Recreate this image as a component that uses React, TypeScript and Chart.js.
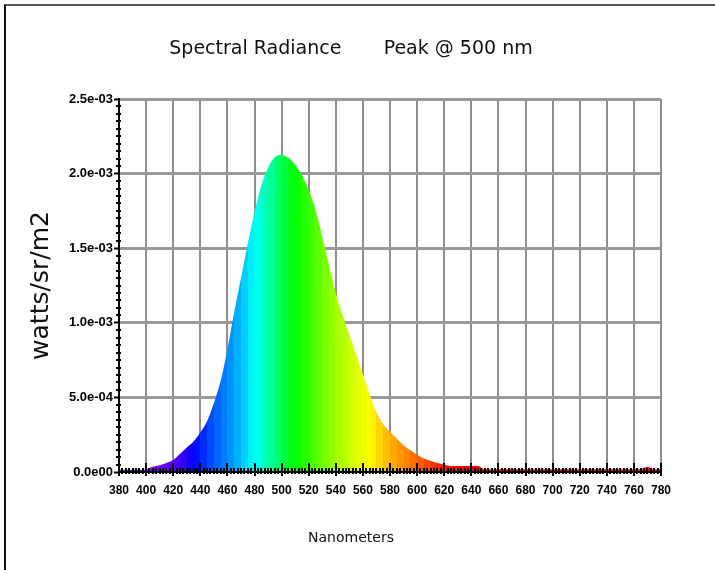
import React, { useEffect, useRef } from "react";
import { Chart, registerables } from "chart.js";

Chart.register(...registerables);

// ---- data ----
const wavelengths = [
  380, 385, 390, 395, 400, 405, 410, 415, 420, 425, 430, 435, 440, 445, 450, 455,
  460, 465, 470, 475, 480, 485, 490, 495, 500, 505, 510, 515, 520, 525, 530, 535,
  540, 545, 550, 555, 560, 565, 570, 575, 580, 585, 590, 595, 600, 605, 610, 615,
  620, 625, 630, 635, 640, 645, 650, 655, 660, 665, 670, 675, 680, 685, 690, 695,
  700, 705, 710, 715, 720, 725, 730, 735, 740, 745, 750, 755, 760, 765, 770, 775, 780,
];

const radiance = [
  1.5e-5, 1.5e-5, 1.5e-5, 1.5e-5, 1.8e-5, 3.5e-5, 4.5e-5, 6.0e-5, 8.0e-5, 1.2e-4,
  1.65e-4, 2.05e-4, 2.65e-4, 3.4e-4, 4.6e-4, 6.1e-4, 8.2e-4, 1.07e-3, 1.3e-3, 1.53e-3,
  1.74e-3, 1.92e-3, 2.04e-3, 2.11e-3, 2.125e-3, 2.105e-3, 2.06e-3, 1.99e-3, 1.89e-3, 1.76e-3,
  1.58e-3, 1.39e-3, 1.2e-3, 1.05e-3, 9.2e-4, 7.9e-4, 6.55e-4, 5.2e-4, 4.0e-4, 3.2e-4,
  2.7e-4, 2.25e-4, 1.8e-4, 1.45e-4, 1.15e-4, 9.0e-5, 7.5e-5, 6.0e-5, 5.0e-5, 4.0e-5,
  4.0e-5, 4.0e-5, 4.0e-5, 4.0e-5, 1.8e-5, 1.8e-5, 1.8e-5, 1.8e-5, 1.8e-5, 1.8e-5,
  1.8e-5, 1.8e-5, 1.8e-5, 1.8e-5, 1.8e-5, 1.8e-5, 1.8e-5, 1.8e-5, 1.8e-5, 1.8e-5,
  1.8e-5, 1.8e-5, 1.8e-5, 1.8e-5, 1.8e-5, 1.8e-5, 1.8e-5, 1.8e-5, 3.6e-5, 1.8e-5, 1.8e-5,
];

const xTickValues = [
  380, 400, 420, 440, 460, 480, 500, 520, 540, 560, 580, 600, 620, 640, 660, 680,
  700, 720, 740, 760, 780,
];
const yTickValues = [0, 0.0005, 0.001, 0.0015, 0.002, 0.0025];
const yTickLabels = ["0.0e00", "5.0e-04", "1.0e-03", "1.5e-03", "2.0e-03", "2.5e-03"];

const titleText = "Spectral Radiance       Peak @ 500 nm";
const yTitle = "watts/sr/m2";
const xTitle = "Nanometers";

// ---- styles ----
const TICKFONT = "'Liberation Sans', Arial, sans-serif";
const DEJAVU = "'DejaVu Sans', sans-serif";
const GRID = "#8f8f8f";

// spectral colour anchors (wavelength -> rgb)
const colorAnchors: [number, [number, number, number]][] = [
  [380, [150, 0, 200]],
  [400, [140, 0, 255]],
  [420, [90, 0, 255]],
  [435, [0, 0, 255]],
  [450, [0, 90, 255]],
  [465, [0, 160, 255]],
  [480, [0, 255, 255]],
  [490, [0, 255, 170]],
  [500, [0, 255, 80]],
  [510, [0, 255, 0]],
  [525, [80, 255, 0]],
  [540, [160, 255, 0]],
  [555, [220, 255, 0]],
  [565, [255, 255, 0]],
  [575, [255, 200, 0]],
  [590, [255, 140, 0]],
  [605, [255, 80, 0]],
  [620, [255, 20, 0]],
  [635, [255, 0, 0]],
  [780, [255, 0, 0]],
];

function colorAt(w: number): string {
  for (let i = 0; i < colorAnchors.length - 1; i++) {
    const [w0, c0] = colorAnchors[i];
    const [w1, c1] = colorAnchors[i + 1];
    if (w >= w0 && w <= w1) {
      const t = (w - w0) / (w1 - w0);
      const c = c0.map((v, k) => Math.round(v + (c1[k] - v) * t));
      return `rgb(${c[0]},${c[1]},${c[2]})`;
    }
  }
  const c = colorAnchors[colorAnchors.length - 1][1];
  return `rgb(${c[0]},${c[1]},${c[2]})`;
}

function spectralFill(ctx: any) {
  const chart = ctx.chart;
  const xs = chart.scales && chart.scales.x;
  if (!chart.chartArea || !xs) return "rgba(0,0,0,0)";
  const left = xs.left;
  const right = xs.right;
  const g = chart.ctx.createLinearGradient(left, 0, right, 0);
  const span = right - left;
  for (let i = 0; i < wavelengths.length - 1; i++) {
    const w0 = wavelengths[i];
    const w1 = wavelengths[i + 1];
    const p0 = Math.min(1, Math.max(0, (xs.getPixelForValue(w0) - left) / span));
    const p1 = Math.min(1, Math.max(0, (xs.getPixelForValue(w1) - left) / span));
    const col = colorAt((w0 + w1) / 2);
    g.addColorStop(p0, col);
    g.addColorStop(p1, col);
  }
  return g;
}

const minorTicks = {
  id: "minorTicks",
  afterDraw(chart: any) {
    const { ctx, scales, chartArea } = chart;
    const x = scales.x;
    const y = scales.y;
    ctx.save();
    ctx.strokeStyle = "#000";
    ctx.lineWidth = 2;
    ctx.beginPath();
    // y minor ticks every 5e-5
    for (let k = 1; k < 50; k++) {
      if (k % 10 === 0) continue;
      const py = Math.round(y.getPixelForValue(k * 5e-5));
      ctx.moveTo(chartArea.left - 3, py);
      ctx.lineTo(chartArea.left + 2, py);
    }
    // x minor ticks every 2.5 nm
    for (let k = 1; k < 160; k++) {
      if (k % 8 === 0) continue;
      const px = Math.round(x.getPixelForValue(380 + k * 2.5));
      ctx.moveTo(px, chartArea.bottom - 4);
      ctx.lineTo(px, chartArea.bottom + 2);
    }
    // upper part of major x ticks
    for (const v of xTickValues) {
      const px = Math.round(x.getPixelForValue(v));
      ctx.moveTo(px, chartArea.bottom - 9);
      ctx.lineTo(px, chartArea.bottom);
    }
    ctx.stroke();
    ctx.restore();
  },
};

export default function App() {
  const ref = useRef<HTMLCanvasElement>(null);

  useEffect(() => {
    if (!ref.current) return;
    const points = wavelengths.map((w, i) => ({ x: w, y: radiance[i] }));
    const chart = new Chart(ref.current, {
      type: "line",
      data: {
        datasets: [
          {
            data: points,
            fill: "origin",
            backgroundColor: spectralFill,
            borderWidth: 0,
            pointRadius: 0,
            cubicInterpolationMode: "monotone",
          },
        ],
      },
      options: {
        animation: false,
        responsive: false,
        devicePixelRatio: 1,
        events: [],
        layout: { padding: { left: 41, right: 54, top: 0, bottom: 0 } },
        plugins: {
          legend: { display: false },
          tooltip: { enabled: false },
          title: {
            display: true,
            text: titleText,
            color: "#111",
            font: { family: DEJAVU, size: 19, weight: "normal" },
            padding: { top: 38, bottom: 38.2 },
          },
          subtitle: {
            display: true,
            position: "bottom",
            text: xTitle,
            color: "#111",
            font: { family: DEJAVU, size: 14, weight: "normal" },
            padding: { top: 0, bottom: 23.6 },
          },
        },
        scales: {
          x: {
            type: "linear",
            min: 380,
            max: 780,
            afterBuildTicks: (s: any) => {
              s.ticks = xTickValues.map((v) => ({ value: v }));
            },
            afterFit: (s: any) => {
              s.height = 57.6;
            },
            ticks: {
              autoSkip: false,
              maxRotation: 0,
              padding: 7,
              color: "#000",
              font: { family: TICKFONT, size: 12, weight: "bold" },
              callback: (v: any) => String(v),
            },
            grid: {
              color: (c: any) => (c.tick && c.tick.value === 380 ? "rgba(0,0,0,0)" : GRID),
              lineWidth: 2,
              tickColor: "#000",
              tickLength: 4,
              tickWidth: 2,
            },
            border: { display: true, color: "#000", width: 2, z: 1 },
          },
          y: {
            type: "linear",
            min: 0,
            max: 0.0025,
            afterBuildTicks: (s: any) => {
              s.ticks = yTickValues.map((v) => ({ value: v }));
            },
            afterFit: (s: any) => {
              s.width = 78;
            },
            ticks: {
              padding: 1,
              color: "#000",
              font: { family: TICKFONT, size: 13, weight: "bold" },
              callback: (v: any) => {
                const i = yTickValues.findIndex((t) => Math.abs(t - v) < 1e-9);
                return i >= 0 ? yTickLabels[i] : "";
              },
            },
            grid: {
              color: (c: any) => (c.tick && c.tick.value === 0 ? "rgba(0,0,0,0)" : "#999"),
              lineWidth: 3,
              tickColor: "#000",
              tickLength: 5,
              tickWidth: 2,
            },
            border: { display: true, color: "#000", width: 2, z: 1 },
            title: {
              display: true,
              text: yTitle,
              color: "#111",
              font: { family: DEJAVU, size: 25 },
              padding: { top: -15, bottom: 0 },
            },
          },
        },
      },
      plugins: [minorTicks],
    } as any);
    return () => chart.destroy();
  }, []);

  return (
    <div style={{ position: "absolute", left: 0, top: 0, width: 715, height: 570, background: "#fff" }}>
      <canvas ref={ref} width={715} height={570} style={{ display: "block", width: 715, height: 570 }} />
      <div
        style={{
          position: "absolute",
          left: 4,
          top: 4,
          right: 0,
          bottom: 0,
          borderTop: "2px solid #555",
          borderLeft: "2px solid #111",
          pointerEvents: "none",
        }}
      />
    </div>
  );
}
